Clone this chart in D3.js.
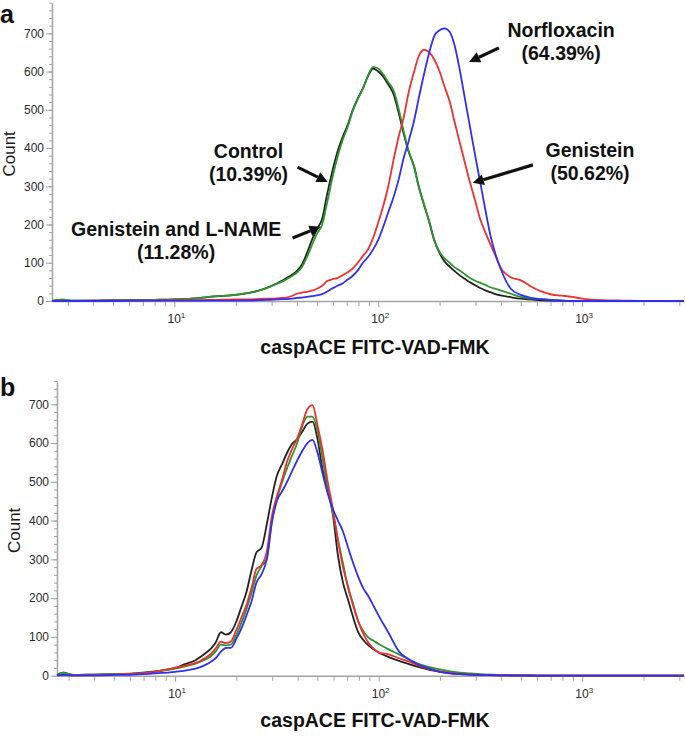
<!DOCTYPE html>
<html><head><meta charset="utf-8">
<script src="https://cdn.jsdelivr.net/npm/d3@7"></script>
<style>body{margin:0;background:#fff;} svg{display:block;font-family:Arial,"Liberation Sans",sans-serif;}</style>
</head><body><svg id="c" width="685" height="736"></svg>
<script>
// ---------- DATA ----------
const seriesNames = ["Control", "Genistein and L-NAME", "Genistein", "Norfloxacin"];
const seriesColors = ["#222222", "#2d962d", "#f03030", "#2f2ff5"];

// Panel a: fluorescence channels and counts
const xA = [2.51,2.82,3.16,3.98,5.01,6.31,7.94,10,12.6,15.8,20.0,25.1,28.2,31.6,33.5,35.5,37.6,39.8,42.2,44.7,47.3,50.1,53.1,56.2,59.6,63.1,66.8,70.8,75.0,79.4,84.1,89.1,94.4,100,106,112,119,126,133,141,150,158,168,178,188,200,211,224,237,251,266,282,299,316,335,355,376,398,447,501,562,631,708,794,891,1000,1259,1585,1995,2512,3162];
const controlA = [0,2,1,1,2,2,3,4,7,12,16,25,34,45,52,60,68,78,95,125,160,188,215,280,340,390,428,460,500,530,556,588,608,600,586,566,540,492,440,390,352,300,250,208,160,125,104,90,78,67,58,49,41,34,28,23,18,15,10,6,4,2,1,1,0,0,0,0,0,0,0];
const lnameA = [0,4,1,1,2,2,3,4,7,12,16,25,33,44,50,57,65,74,88,115,146,176,200,258,322,376,420,455,497,528,555,590,612,608,592,572,550,502,446,392,350,298,252,205,160,128,112,100,88,80,70,60,53,48,42,36,32,28,19,11,7,5,3,1,0,0,0,0,0,0,0];
const genisteinA = [0,1,0,1,1,1,1,2,2,3,4,5,6,7,8,9,13,19,22,24,27,32,40,52,57,60,67,75,85,100,118,135,165,205,250,300,370,430,478,545,600,640,657,650,632,600,562,522,468,415,362,310,262,215,180,148,118,88,62,54,38,25,17,14,11,6,2,1,0,0,0];
const norfloxA = [0,0,0,0,0,1,1,1,1,1,1,2,3,4,5,5,6,8,9,11,13,15,18,25,33,40,46,56,66,80,100,115,135,160,195,232,272,318,372,418,472,530,595,650,692,708,713,704,668,605,530,455,380,312,240,172,122,85,32,16,8,5,2,1,0,0,0,0,0,0,0];

// Panel b
const xB = [2.63,2.82,3.16,3.98,5.01,6.31,7.94,10,11.2,12.6,13.3,14.1,15.0,15.8,16.8,17.8,18.8,20.0,21.1,22.4,23.7,25.1,26.6,28.2,29.9,31.6,33.5,35.5,37.6,39.8,42.2,44.7,47.3,50.1,53.1,56.2,59.6,63.1,66.8,70.8,75.0,79.4,84.1,89.1,94.4,100,112,126,141,158,178,200,224,251,282,316,398,501,631,1000,1585,3162];
const controlB = [2,8,2,3,4,6,11,20,30,40,48,58,70,85,112,106,112,140,175,215,270,318,330,390,460,515,545,575,598,610,630,650,655,610,530,480,415,310,240,195,150,112,92,78,68,60,48,38,30,22,15,10,7,5,3,2,1,1,0,0,0,0];
const lnameB = [2,8,2,3,4,5,10,18,24,31,36,42,50,62,80,78,80,105,135,170,212,258,282,300,400,455,498,535,568,600,645,668,668,630,560,480,420,350,290,225,185,140,115,98,90,82,68,55,42,30,22,16,11,8,6,4,2,1,0,0,0,0];
const genisteinB = [1,2,1,2,3,5,10,20,26,33,38,46,56,70,88,84,88,118,148,182,225,275,285,320,412,462,505,552,585,612,650,688,698,645,580,500,430,350,280,230,180,140,108,85,70,60,55,45,36,26,17,11,7,4,3,2,1,1,0,0,0,0];
const norfloxB = [1,2,1,1,2,3,6,10,13,18,22,28,36,45,62,72,72,95,120,155,190,240,262,300,395,450,475,500,528,555,580,600,608,575,520,470,430,400,372,330,290,255,225,205,180,155,110,62,42,28,18,10,6,4,3,2,1,0,0,0,0,0];

const yMajorTicks = [0,100,200,300,400,500,600,700];
const xDecades = [10,100,1000];
const xDecadeExp = ["1","2","3"];
const xLabel = "caspACE FITC-VAD-FMK";
const yLabel = "Count";

// annotations (panel a), in data units
const annotations = [
  {lines:["Norfloxacin","(64.39%)"], x:789, y:[690,630], from:[391,662], to:[279,625]},
  {lines:["Genistein","(50.62%)"], x:1094, y:[377,316], from:[574,356], to:[291,309]},
  {lines:["Control","(10.39%)"], x:23.1, y:[374,314], from:[40.2,350], to:[56.5,311]},
  {lines:["Genistein and L-NAME","(11.28%)"], x:10.2, y:[170,110], from:[38.0,165], to:[52.1,194]}
];

// ---------- DRAW ----------
const svg = d3.select("#c");
const axisColor = "#a3a3a3";

function panel(cfg){
  const x = d3.scaleLog().domain(cfg.xDomain).range([cfg.left, cfg.right]);
  const y = d3.scaleLinear().domain([0, cfg.yMax]).range([cfg.bottom, cfg.top]);
  const g = svg.append("g");

  const minorY = d3.range(0, cfg.yMax + 1, 20);
  g.append("g").attr("transform", `translate(${cfg.left},0)`)
    .call(d3.axisLeft(y).tickValues(minorY).tickSize(3).tickFormat(""))
    .call(s => { s.select(".domain").remove(); s.selectAll("line").attr("stroke", axisColor); });
  const ya = g.append("g").attr("transform", `translate(${cfg.left},0)`)
    .call(d3.axisLeft(y).tickValues(yMajorTicks).tickSize(6).tickPadding(2).tickSizeOuter(0));
  ya.select(".domain").attr("stroke", axisColor).attr("stroke-width", 1.5);
  ya.selectAll("line").attr("stroke", axisColor);
  ya.selectAll("text").attr("font-size", 12).attr("fill", "#2a2a2a").attr("font-family", "Arial, 'Liberation Sans', sans-serif");

  const minorX = [];
  [1,10,100,1000].forEach(d => { for (let k=2;k<=9;k++){ const v=d*k; if (v>=cfg.xDomain[0] && v<=cfg.xDomain[1]) minorX.push(v);} });
  g.append("g").attr("transform", `translate(0,${cfg.bottom})`)
    .call(d3.axisBottom(x).tickValues(minorX).tickSize(5).tickFormat(""))
    .call(s => { s.select(".domain").remove(); s.selectAll("line").attr("stroke", axisColor); });
  const xa = g.append("g").attr("transform", `translate(0,${cfg.bottom})`)
    .call(d3.axisBottom(x).tickValues(xDecades).tickSize(6).tickFormat("").tickSizeOuter(0));
  xa.select(".domain").attr("stroke", axisColor).attr("stroke-width", 1.5);
  xa.selectAll("line").attr("stroke", axisColor);

  xDecades.forEach((d,i) => {
    const t = g.append("text").attr("x", x(d) + 2).attr("y", cfg.bottom + 22)
      .attr("text-anchor", "middle").attr("font-size", 12).attr("fill", "#2a2a2a");
    t.append("tspan").text("10");
    t.append("tspan").text(xDecadeExp[i]).attr("font-size", 8).attr("dy", -5);
  });

  const line = d3.line().curve(d3.curveMonotoneX);
  cfg.series.forEach((vals, i) => {
    const pts = vals.map((v, j) => [x(cfg.xs[j]), y(v)]);
    g.append("path").attr("d", line(pts)).attr("fill", "none")
      .attr("stroke", seriesColors[i]).attr("stroke-width", 1.8).attr("stroke-linejoin", "round");
  });

  g.append("text").attr("transform", `translate(${cfg.left - 37},${(cfg.top + cfg.bottom)/2 + 2}) rotate(-90)`)
    .attr("text-anchor", "middle").attr("font-size", 17).attr("fill", "#1a1a1a").text(yLabel);
  g.append("text").attr("x", 375).attr("y", cfg.titleY).attr("text-anchor", "middle")
    .attr("font-size", 19.5).attr("font-weight", "bold").attr("fill", "#111").text(xLabel);
  g.append("text").attr("x", 0).attr("y", cfg.letterY).attr("font-size", 25)
    .attr("font-weight", "bold").attr("fill", "#111").text(cfg.letter);

  return {x, y, g};
}

const pa = panel({letter:"a", letterY:23, xs:xA, series:[controlA, lnameA, genisteinA, norfloxA],
  xDomain:[2.51, 3162], yMax:780, left:52, right:684, top:2.7, bottom:301, titleY:354});
const pb = panel({letter:"b", letterY:396, xs:xB, series:[controlB, lnameB, genisteinB, norfloxB],
  xDomain:[2.63, 3162], yMax:760, left:57, right:684, top:381, bottom:675.7, titleY:727});

annotations.forEach(a => {
  a.lines.forEach((ln, i) => {
    pa.g.append("text").attr("x", pa.x(a.x)).attr("y", pa.y(a.y[i]))
      .attr("text-anchor", "middle").attr("font-size", 19.5).attr("font-weight", "bold")
      .attr("fill", "#111").text(ln);
  });
  const x1 = pa.x(a.from[0]), y1 = pa.y(a.from[1]);
  const x2 = pa.x(a.to[0]), y2 = pa.y(a.to[1]);
  const ang = Math.atan2(y2 - y1, x2 - x1);
  const L = 11, W = 5.5;
  const bx = x2 - L*Math.cos(ang), by = y2 - L*Math.sin(ang);
  pa.g.append("line").attr("x1", x1).attr("y1", y1).attr("x2", bx).attr("y2", by)
    .attr("stroke", "#111").attr("stroke-width", 3.2);
  const px = -Math.sin(ang), py = Math.cos(ang);
  pa.g.append("path").attr("d", `M${x2},${y2}L${bx+W*px},${by+W*py}L${bx-W*px},${by-W*py}Z`).attr("fill", "#111");
});
</script></body></html>
